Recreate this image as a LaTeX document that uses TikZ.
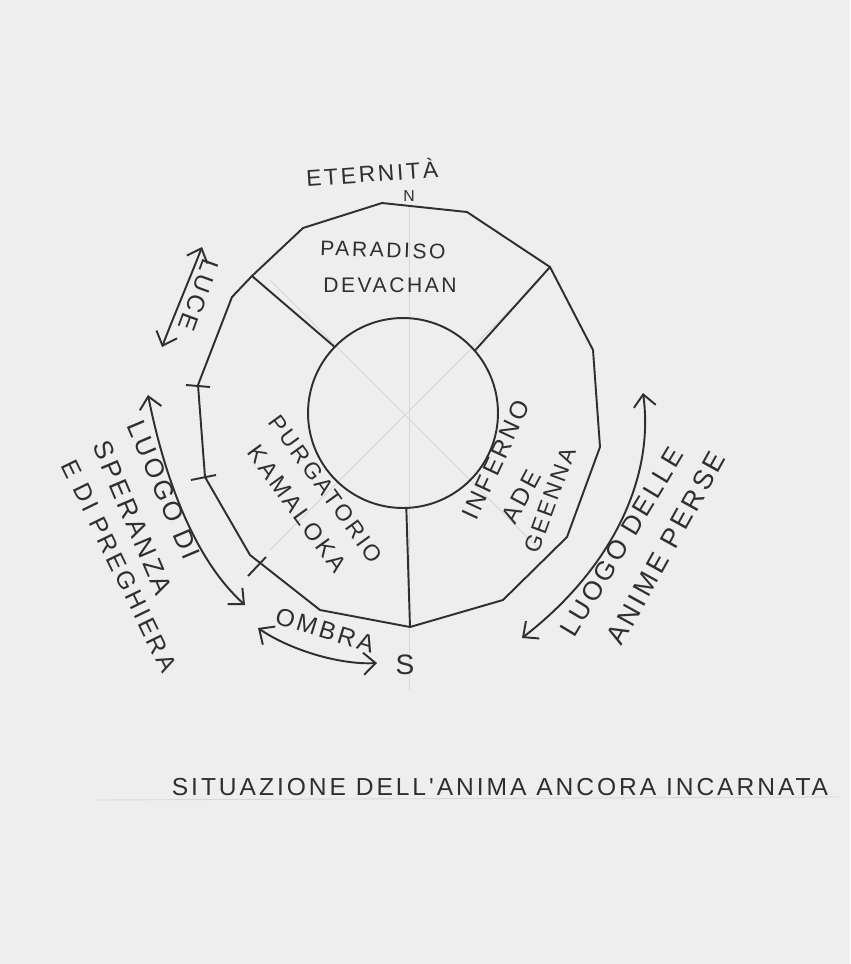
\documentclass[tikz,border=0pt]{standalone}
\usepackage{fontspec}
\newfontfamily\hand[LetterSpace=12]{Liberation Sans}
\newcommand{\hsz}[1]{\hand\fontsize{#1}{#1}\selectfont}
\usetikzlibrary{arrows.meta}
\definecolor{paper}{HTML}{EEEEEE}
\definecolor{ink}{HTML}{2F2F2F}
\definecolor{pencil}{HTML}{D8D8D8}

\begin{document}
\begin{tikzpicture}[x=0.02cm, y=-0.02cm, >={Straight Barb[length=2.4mm, width=4.4mm]},
	ring/.style={draw=ink, line width=1.1pt, line join=round},
	guide/.style={draw=pencil, line width=0.5pt},
	freccia/.style={draw=ink, line width=1.1pt, <->},
	lbl/.style={inner sep=0pt, text=ink}]
	\fill[paper] (0,0) rectangle (850,964);
	\useasboundingbox (0,0) rectangle (850,964);
	% linee guida a matita
	\draw[guide] (409,205) -- (409,690);
	\draw[guide] (270,280) -- (540,550);
	\draw[guide] (270,550) -- (540,280);
	\draw[guide] (95,800) -- (840,797);
	% vertici del poligono esterno
	\foreach \n/\x/\y in {1/382/203, 2/467/212, 3/550/267, 4/593/350, 5/600/447,
		6/567/537, 7/503/600, 8/410/627, 9/320/610, 10/250/555, 11/205/477,
		12/198/385, 13/232/297, 14/252/276, 15/303/228} {
		\coordinate (p\n) at (\x,\y);
	}
	\draw[ring] (p1) -- (p2) -- (p3) -- (p4) -- (p5) -- (p6) -- (p7) -- (p8)
		-- (p9) -- (p10) -- (p11) -- (p12) -- (p13) -- (p14) -- (p15) -- cycle;
	% cerchio centrale e raggi
	\node[ring, circle, minimum size=3.8cm, inner sep=0pt] (core) at (403,413) {};
	\draw[ring] (core.136) -- (p14);
	\draw[ring] (core.41) -- (p3);
	\draw[ring] (core.-88) -- (p8);
	% tacche sul bordo sinistro
	\draw[ring] (186,385) -- (210,387);
	\draw[ring] (191,480) -- (216,475);
	\draw[ring] (248,576) -- (266,557);
	% frecce
	\coordinate (luceA) at (202,247);
	\coordinate (luceB) at (162,347);
	\coordinate (speA) at (148,395);
	\coordinate (speB) at (245,605);
	\coordinate (ombraA) at (258,628);
	\coordinate (ombraB) at (377,663);
	\coordinate (perseA) at (643,393);
	\coordinate (perseB) at (522,638);
	\draw[freccia] (luceA) .. controls (190,278) and (173,318) .. (luceB);
	\draw[freccia] (speA) .. controls (165,480) and (195,560) .. (speB);
	\draw[freccia] (ombraA) .. controls (290,650) and (340,665) .. (ombraB);
	\draw[freccia] (perseA) .. controls (655,480) and (610,570) .. (perseB);
	% scritte
	\node[lbl, font=\hsz{13}, rotate=4] (eternita) at (372,172) {ETERNITÀ};
	\node[lbl, font=\hsz{9}] (nord) at (409,196) {N};
	\node[lbl, font=\hsz{12}, rotate=-2] (paradiso) at (383,250) {PARADISO};
	\node[lbl, font=\hsz{12}] (devachan) at (390,285) {DEVACHAN};
	\node[lbl, font=\hsz{14}, rotate=-110] (luce) at (199,295) {LUCE};
	\node[lbl, font=\hsz{15}, rotate=-67] (luogo) at (164,490) {LUOGO DI};
	\node[lbl, font=\hsz{15}, rotate=-67] (speranza) at (133,518) {SPERANZA};
	\node[lbl, font=\hsz{14}, rotate=-64] (preghiera) at (119,566) {E DI PREGHIERA};
	\node[lbl, font=\hsz{13}, rotate=-54] (purgatorio) at (326,489) {PURGATORIO};
	\node[lbl, font=\hsz{13.5}, rotate=-54] (kamaloka) at (297,509) {KAMALOKA};
	\node[lbl, font=\hsz{14}, rotate=65] (inferno) at (496,460) {INFERNO};
	\node[lbl, font=\hsz{14}, rotate=62] (ade) at (521,497) {ADE};
	\node[lbl, font=\hsz{13}, rotate=70] (geenna) at (550,500) {GEENNA};
	\node[lbl, font=\hsz{14}, rotate=-17] (ombra) at (325,630) {OMBRA};
	\node[lbl, font=\hsz{16}] (sud) at (405,665) {S};
	\node[lbl, font=\hsz{15}, rotate=59] (luogodelle) at (622,542) {LUOGO DELLE};
	\node[lbl, font=\hsz{15.5}, rotate=61] (animeperse) at (666,548) {ANIME PERSE};
	\node[lbl, font=\hsz{14}] (titolo) at (500,787) {SITUAZIONE DELL'ANIMA ANCORA INCARNATA};
\end{tikzpicture}
\end{document}
